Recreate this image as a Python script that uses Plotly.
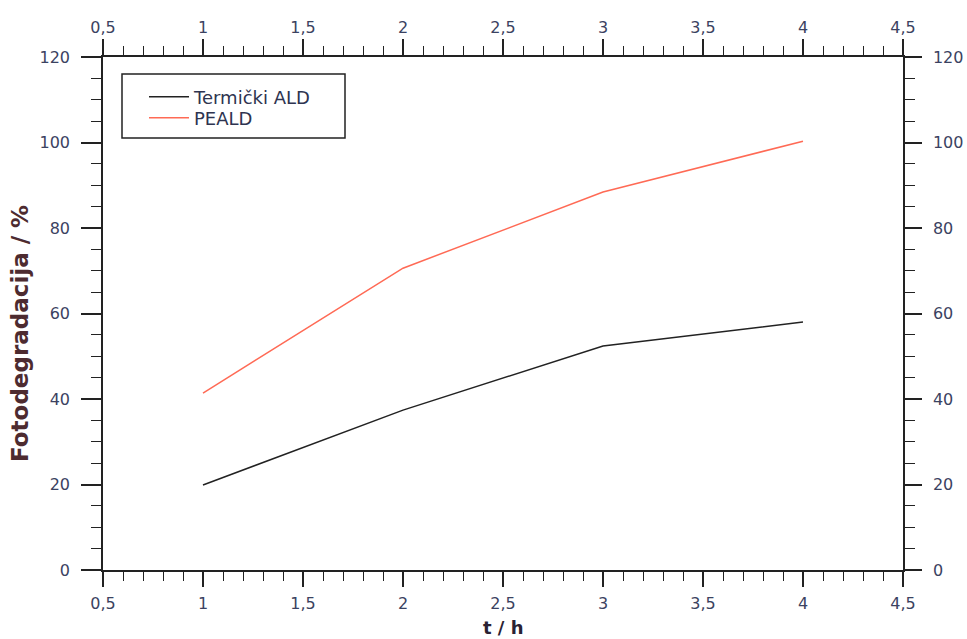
import plotly.graph_objects as go

t_hours = [1, 2, 3, 4]
termicki_ald = [19.9, 37.4, 52.4, 58.0]
peald = [41.4, 70.6, 88.4, 100.3]

x_range = [0.5, 4.5]
y_range = [0, 120]

font_fam = "DejaVu Sans"
tick_col = "#3b4261"

fig = go.Figure()
fig.add_trace(go.Scatter(x=t_hours, y=termicki_ald, mode="lines", name="Termički ALD",
                         line=dict(color="#222222", width=1.5), legend="legend"))
fig.add_trace(go.Scatter(x=t_hours, y=peald, mode="lines", name="PEALD",
                         line=dict(color="#ff6a55", width=1.5), legend="legend2"))
# helper trace to show top / right axes
fig.add_trace(go.Scatter(x=t_hours, y=peald, xaxis="x2", yaxis="y2", mode="lines",
                         line=dict(width=0), opacity=0, showlegend=False, hoverinfo="skip"))

common_x = dict(range=x_range, dtick=0.5, tick0=0.5, showgrid=False, zeroline=False,
                showline=True, linecolor="#222", linewidth=1.5, ticks="outside",
                tickcolor="#222", tickwidth=1.5, automargin=False,
                tickfont=dict(family=font_fam, size=16, color=tick_col),
                minor=dict(dtick=0.1, tick0=0.5, ticks="outside", ticklen=9,
                           tickcolor="#222", tickwidth=1.2, showgrid=False))
common_y = dict(range=y_range, dtick=20, showgrid=False, zeroline=False,
                showline=True, linecolor="#222", linewidth=1.5, ticks="outside",
                tickcolor="#222", tickwidth=1.5, ticklabelstandoff=8, automargin=False,
                tickfont=dict(family=font_fam, size=16, color=tick_col),
                minor=dict(dtick=5, ticks="outside", ticklen=10,
                           tickcolor="#222", tickwidth=1.2, showgrid=False))

leg_common = dict(xanchor="left", yanchor="middle", borderwidth=0,
                  bgcolor="rgba(0,0,0,0)", itemwidth=40,
                  font=dict(family=font_fam, size=18, color="#2e3450"))

fig.update_layout(
    width=967, height=639,
    margin=dict(l=103, r=64, t=57, b=69, autoexpand=False),
    paper_bgcolor="white", plot_bgcolor="white",
    separators=", ",
    font=dict(family=font_fam, size=16, color=tick_col),
    xaxis=dict(**common_x, ticklen=15, ticklabelstandoff=3),
    xaxis2=dict(**common_x, ticklen=16, ticklabelstandoff=0,
                overlaying="x", side="top", anchor="y"),
    yaxis=dict(**common_y, ticklen=20),
    yaxis2=dict(**common_y, ticklen=17, overlaying="y", side="right", anchor="x"),
    legend=dict(**leg_common, x=(144 - 103) / 800, y=(570 - 97) / 513),
    legend2=dict(**leg_common, x=(144 - 103) / 800, y=(570 - 118) / 513),
    showlegend=True,
    shapes=[dict(type="rect", xref="paper", yref="paper",
                 x0=(122 - 103) / 800, x1=(345 - 103) / 800,
                 y0=(570 - 138) / 513, y1=(570 - 74) / 513,
                 line=dict(color="#222", width=1.5), fillcolor="rgba(0,0,0,0)", layer="above")],
    annotations=[
        dict(text="<b>Fotodegradacija / %</b>", textangle=-90, showarrow=False,
             xref="paper", yref="paper", x=(20 - 103) / 800, y=(570 - 334) / 513,
             xanchor="center", yanchor="middle",
             font=dict(family=font_fam, size=23, color="#4d2b30")),
        dict(text="<b>t / h</b>", showarrow=False,
             xref="paper", yref="paper", x=0.5, y=(570 - 627) / 513,
             xanchor="center", yanchor="middle",
             font=dict(family=font_fam, size=18, color="#2a2233")),
    ],
)

fig.write_html("out.html")
